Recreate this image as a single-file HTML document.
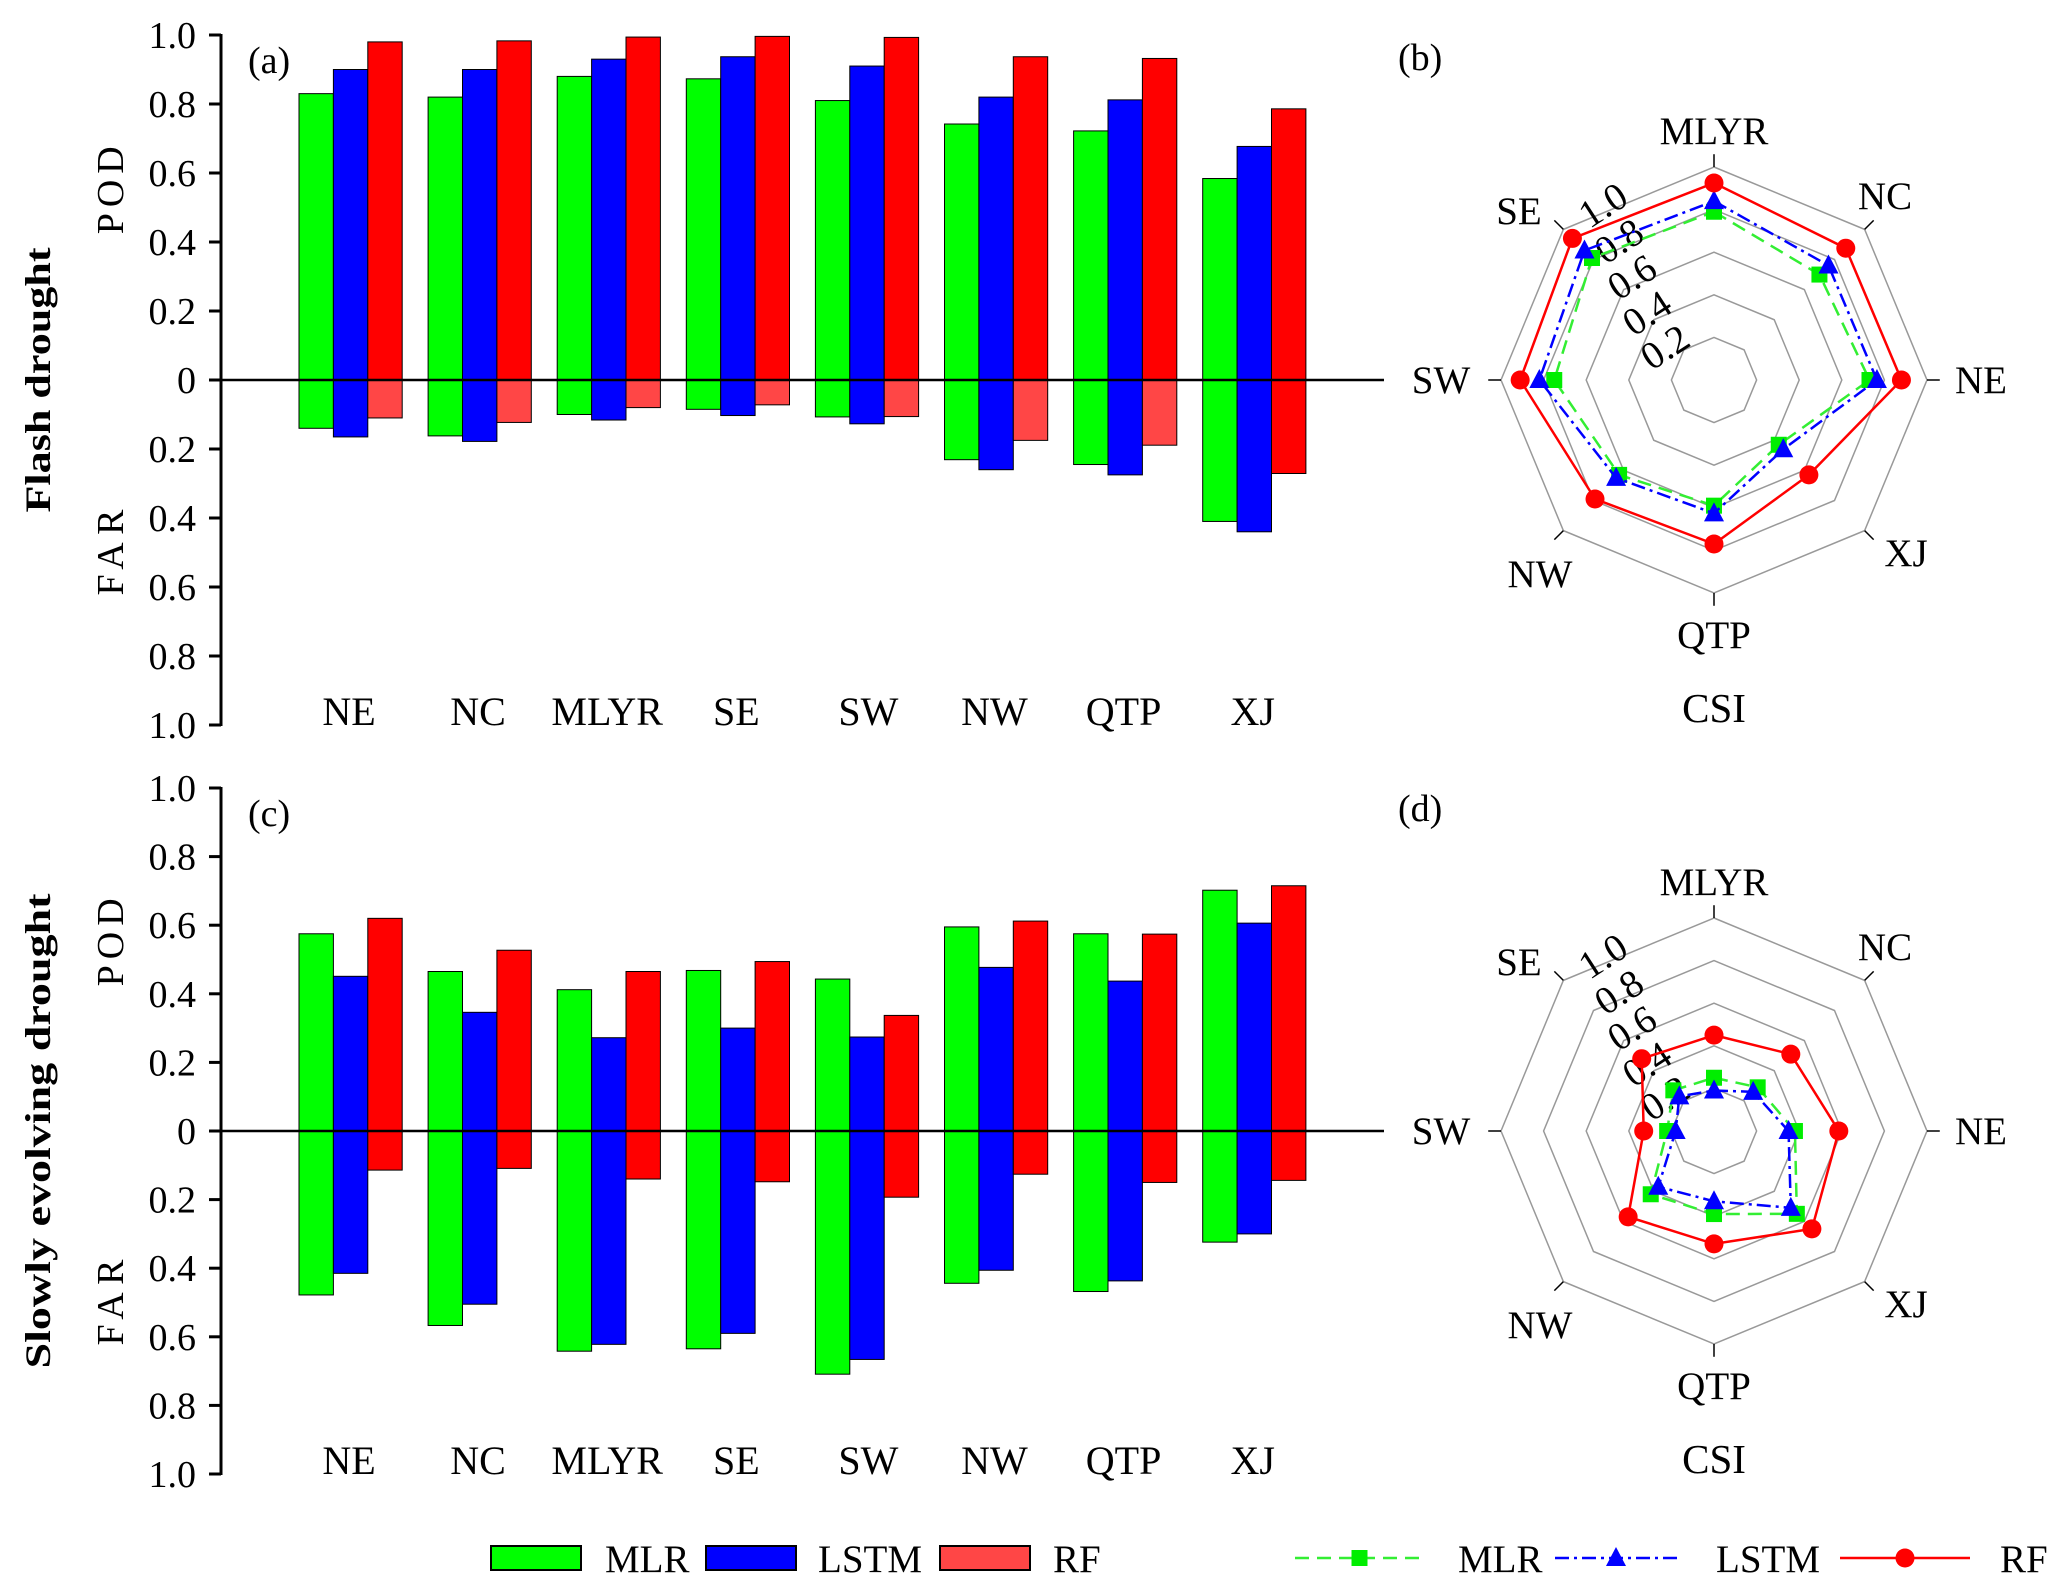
<!DOCTYPE html>
<html><head><meta charset="utf-8"><style>
html,body{margin:0;padding:0;background:#fff}
svg{display:block;font-family:"Liberation Serif",serif}
</style></head><body>
<svg id="fig" width="2067" height="1592" viewBox="0 0 2067 1592" xmlns="http://www.w3.org/2000/svg"></svg>
<script>
const regions = ['NE','NC','MLYR','SE','SW','NW','QTP','XJ'];
const models = ['MLR','LSTM','RF'];
const podFlashMLR = [0.83,0.82,0.88,0.873,0.81,0.742,0.722,0.584];
const podFlashLSTM = [0.90,0.90,0.93,0.937,0.91,0.82,0.812,0.677];
const podFlashRF = [0.98,0.983,0.994,0.996,0.993,0.937,0.932,0.786];
const farFlashMLR = [0.14,0.162,0.10,0.085,0.107,0.231,0.245,0.41];
const farFlashLSTM = [0.165,0.178,0.116,0.103,0.127,0.26,0.275,0.44];
const farFlashRF = [0.11,0.123,0.08,0.072,0.106,0.175,0.189,0.271];
const podSlowMLR = [0.575,0.465,0.412,0.468,0.443,0.595,0.575,0.702];
const podSlowLSTM = [0.451,0.346,0.272,0.30,0.274,0.477,0.437,0.606];
const podSlowRF = [0.62,0.527,0.465,0.494,0.337,0.612,0.574,0.715];
const farSlowMLR = [0.478,0.567,0.642,0.635,0.709,0.444,0.468,0.324];
const farSlowLSTM = [0.415,0.505,0.622,0.59,0.666,0.406,0.437,0.30];
const farSlowRF = [0.114,0.109,0.14,0.148,0.193,0.126,0.15,0.144];
const yTicks = ['1.0','0.8','0.6','0.4','0.2','0','0.2','0.4','0.6','0.8','1.0'];
const yTickVals = [1,0.8,0.6,0.4,0.2,0,-0.2,-0.4,-0.6,-0.8,-1];
const radarAxes = ['MLYR','NC','NE','XJ','QTP','NW','SW','SE'];
const csiFlashMLR = [0.79,0.70,0.73,0.43,0.59,0.63,0.75,0.81];
const csiFlashLSTM = [0.84,0.76,0.765,0.46,0.626,0.65,0.82,0.86];
const csiFlashRF = [0.925,0.875,0.88,0.63,0.77,0.79,0.91,0.94];
const csiSlowMLR = [0.25,0.29,0.38,0.55,0.39,0.42,0.22,0.27];
const csiSlowLSTM = [0.19,0.26,0.35,0.51,0.33,0.37,0.18,0.23];
const csiSlowRF = [0.45,0.51,0.586,0.65,0.53,0.57,0.33,0.48];
const ringVals = [0.2,0.4,0.6,0.8,1.0];
const ringLabels = ['0.2','0.4','0.6','0.8','1.0'];

const NS='http://www.w3.org/2000/svg';
const svg=document.getElementById('fig');
function mk(tag,attrs,parent){const e=document.createElementNS(NS,tag);for(const k in attrs)e.setAttribute(k,attrs[k]);(parent||svg).appendChild(e);return e;}
function txt(s,attrs,parent){const e=mk('text',attrs,parent);e.textContent=s;return e;}

function barPanel(id,zeroY,unit,pods,fars,farColors,title,titleLen,panelLabel){
  const g=mk('g',{});
  
  
  const axX=221, barW=34.4, step=129.1, x0=299;
  const yS=v=>zeroY - v*unit;
  const xS=(i,m)=>x0 + i*step + m*barW;
  const cols=['#00ff00','#0000ff','#ff0000'];
  for(let m=0;m<3;m++){
    for(let i=0;i<regions.length;i++){
      const v=pods[m][i];
      const r=mk('rect',{x:xS(i,m),y:yS(v),width:barW,height:yS(0)-yS(v),fill:cols[m],stroke:'#000','stroke-width':1},g);
      
      
      const f=fars[m][i];
      const r2=mk('rect',{x:xS(i,m),y:yS(0),width:barW,height:f*unit,fill:farColors[m][i],stroke:'#000','stroke-width':1},g);
      
      
    }
  }
  const zl=mk('line',{x1:axX,x2:1384,y1:yS(0),y2:yS(0),stroke:'#000','stroke-width':2.5},g);
  
  
  const ax=mk('line',{x1:axX,x2:axX,y1:yS(1)-1,y2:yS(-1)+1,stroke:'#000','stroke-width':3},g);
  
  
  for(let k=0;k<yTicks.length;k++){
    const y=yS(yTickVals[k]);
    mk('line',{x1:axX-12,x2:axX,y1:y,y2:y,stroke:'#000','stroke-width':3},g);
    const t=txt(yTicks[k],{x:196,y:y+13,'text-anchor':'end','font-size':38},g);
    
    
  }
  for(let i=0;i<regions.length;i++){
    const t=txt(regions[i],{x:x0+i*step+50+ (i==4?3:0),y:yS(-1)-0,'text-anchor':'middle','font-size':40},g);
    
    
  }
  const p=txt('POD',{transform:`translate(123,${yS(0.55)}) rotate(-90)`,'text-anchor':'middle','font-size':38,textLength:88,lengthAdjust:'spacing'},g);
  
  
  const f=txt('FAR',{transform:`translate(123,${yS(-0.5)}) rotate(-90)`,'text-anchor':'middle','font-size':38,textLength:86,lengthAdjust:'spacing'},g);
  
  
  const tt=txt(title,{transform:`translate(50,${yS(0)}) rotate(-90)`,'text-anchor':'middle','font-size':36,'font-weight':'bold',textLength:titleLen,lengthAdjust:'spacingAndGlyphs'},g);
  
  
  const pl=txt(panelLabel,{x:248,y:yS(1)+38,'font-size':38},g);
  
  
}

const lightRed='#ff4646';
barPanel('flash-drought-bar-chart',380,345,[podFlashMLR,podFlashLSTM,podFlashRF],[farFlashMLR,farFlashLSTM,farFlashRF],
  [regions.map(()=>'#00ff00'),regions.map(()=>'#0000ff'),regions.map((r,i)=>i==7?'#ff0000':lightRed)],'Flash drought',265,'(a)');
barPanel('slow-drought-bar-chart',1131,343,[podSlowMLR,podSlowLSTM,podSlowRF],[farSlowMLR,farSlowLSTM,farSlowRF],
  [regions.map(()=>'#00ff00'),regions.map(()=>'#0000ff'),regions.map(()=>'#ff0000')],'Slowly evolving drought',475,'(c)');

function radar(id,cx,cy,series,panelLabel){
  const g=mk('g',{});
  
  
  const R=213;
  const ang=i=>(-90+45*i)*Math.PI/180;
  const pt=(i,v)=>[cx+Math.cos(ang(i))*R*v, cy+Math.sin(ang(i))*R*v];
  for(let k=0;k<ringVals.length;k++){
    const pts=radarAxes.map((a,i)=>pt(i,ringVals[k]).join(',')).join(' ');
    const rg=mk('polygon',{points:pts,fill:'none',stroke:'#999','stroke-width':1.5},g);
    
    
  }
  for(let i=0;i<radarAxes.length;i++){
    const a=pt(i,1), b=pt(i,1.06);
    mk('line',{x1:a[0],y1:a[1],x2:b[0],y2:b[1],stroke:'#000','stroke-width':1.5},g);
  }
  const labPos=[[0,-249],[171,-184],[267,0],[192,173],[0,255],[-174,194],[-273,0],[-195,-169]];
  for(let i=0;i<radarAxes.length;i++){
    const t=txt(radarAxes[i],{x:cx+labPos[i][0],y:cy+labPos[i][1]+13,'text-anchor':'middle','font-size':39},g);
    
    
  }
  const rl=[[-42,-22],[-60,-56],[-75,-92],[-88,-128],[-104,-164]];
  for(let k=0;k<ringLabels.length;k++){
    const x=cx+rl[k][0], y=cy+rl[k][1];
    const t=txt(ringLabels[k],{transform:`translate(${x},${y}) rotate(-33)`,'text-anchor':'middle','font-size':39},g);
    
    
  }
  const cs=txt('CSI',{x:cx,y:cy+342,'text-anchor':'middle','font-size':41},g);
  
  
  const pl=txt(panelLabel,{x:1398,y:cy-310,'font-size':38},g);
  
  
  const styles=[{c:'#33ee33',d:'14 8'},{c:'#0000ff',d:'14 5 3 5'},{c:'#ff0000',d:''}];
  for(let m=0;m<3;m++){
    const pts=series[m].map((v,i)=>pt(i,v));
    const pl2=mk('polygon',{points:pts.map(p=>p.join(',')).join(' '),fill:'none',stroke:styles[m].c,'stroke-width':2.5,'stroke-dasharray':styles[m].d},g);
    
    
    for(const p of pts){
      let e;
      if(m==0)e=mk('rect',{x:p[0]-8,y:p[1]-8,width:16,height:16,fill:'#00ee00'},g);
      else if(m==1)e=mk('polygon',{points:`${p[0]},${p[1]-11} ${p[0]-10},${p[1]+8} ${p[0]+10},${p[1]+8}`,fill:'#0000ff'},g);
      else e=mk('circle',{cx:p[0],cy:p[1],r:9.5,fill:'#ff0000'},g);
      
      
    }
  }
}
radar('flash-csi-radar',1714,380,[csiFlashMLR,csiFlashLSTM,csiFlashRF],'(b)');
radar('slow-csi-radar',1714,1131,[csiSlowMLR,csiSlowLSTM,csiSlowRF],'(d)');

const lg=mk('g',{});


const boxX=[491,706,940], boxC=['#00ff00','#0000ff','#ff4646'], textX=[605,818,1053];
for(let m=0;m<3;m++){
  const b=mk('rect',{x:boxX[m],y:1546,width:90,height:24,fill:boxC[m],stroke:'#000','stroke-width':2},lg);
  
  
  const t=txt(models[m],{x:textX[m],y:1572,'font-size':39},lg);
  
  
}
const lg2=mk('g',{});


const lx=[[1295,1424],[1555,1677],[1840,1970]], ltx=[1458,1716,2000];
const lst=[{c:'#33ee33',d:'14 8'},{c:'#0000ff',d:'14 5 3 5'},{c:'#ff0000',d:''}];
for(let m=0;m<3;m++){
  mk('line',{x1:lx[m][0],x2:lx[m][1],y1:1558,y2:1558,stroke:lst[m].c,'stroke-width':2.5,'stroke-dasharray':lst[m].d},lg2);
  const cx=(lx[m][0]+lx[m][1])/2;
  let e;
  if(m==0)e=mk('rect',{x:cx-8,y:1550,width:16,height:16,fill:'#00ee00'},lg2);
  else if(m==1)e=mk('polygon',{points:`${cx},${1547} ${cx-10},${1566} ${cx+10},${1566}`,fill:'#0000ff'},lg2);
  else e=mk('circle',{cx:cx,cy:1558,r:9.5,fill:'#ff0000'},lg2);
  
  
  const t=txt(models[m],{x:ltx[m],y:1572,'font-size':39},lg2);
  
  
}
</script>
</body></html>
